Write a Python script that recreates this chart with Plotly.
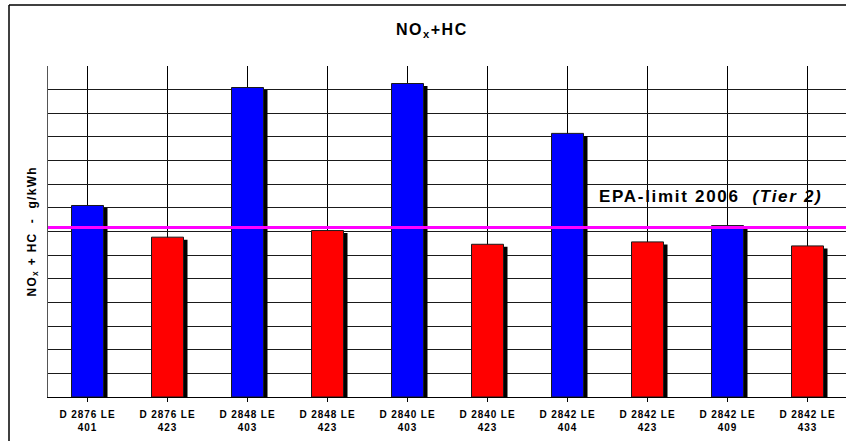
import plotly.graph_objects as go

# Engine variants and measured NOx+HC emissions (one gridline = one unit)
engines = ["D 2876 LE 401", "D 2876 LE 423", "D 2848 LE 403", "D 2848 LE 423",
           "D 2840 LE 403", "D 2840 LE 423", "D 2842 LE 404", "D 2842 LE 423",
           "D 2842 LE 409", "D 2842 LE 433"]
nox_hc = [8.10, 6.76, 13.09, 7.04, 13.26, 6.46, 11.15, 6.56, 7.25, 6.39]
engine_group = ["base", "new", "base", "new", "base", "new", "base", "new", "base", "new"]
epa_limit_2006 = 7.17
y_max = 14

FONT = "Liberation Sans, Arial, sans-serif"
GROUP_COLORS = {"base": "#0000FF", "new": "#FF0000"}

# plot-area geometry in pixels
W, H = 846, 441
L, T, B = 48, 66, 44
plot_w = W - L
plot_h = H - T - B
cat_px = 80.0
x_start = -0.5 + 0.5 / cat_px   # half-pixel shift keeps vertical gridlines crisp


def px_x(px):
    return (px - L) / plot_w


def px_y(py):
    return (H - B - py) / plot_h


def spaced(text, sp):
    return "<br>".join(f"<span style='letter-spacing:{sp}px'>{part}</span>"
                       for part in text.split("<br>"))


xs = list(range(len(engines)))
tick_text = [spaced(e.rsplit(" ", 1)[0] + "<br>" + e.rsplit(" ", 1)[1], 0.9) for e in engines]

fig = go.Figure()

# drop shadow behind each bar
shadow_dx = 4 / cat_px
shadow_dy = 2.5 * y_max / plot_h
fig.add_trace(go.Bar(
    x=xs, y=[v - shadow_dy for v in nox_hc],
    width=0.4, offset=-0.2 + shadow_dx,
    marker=dict(color="black", line=dict(width=0)),
    hoverinfo="skip", showlegend=False,
))

fig.add_trace(go.Bar(
    x=xs, y=nox_hc,
    width=0.4, offset=-0.2,
    marker=dict(color=[GROUP_COLORS[g] for g in engine_group],
                line=dict(color="#1a1a1a", width=1)),
    showlegend=False,
))

fig.update_layout(
    width=W, height=H,
    margin=dict(l=L, r=0, t=T, b=B, pad=0),
    paper_bgcolor="white", plot_bgcolor="white",
    barmode="overlay",
    font=dict(family=FONT, color="black"),
    xaxis=dict(
        range=[x_start, x_start + plot_w / cat_px],
        tickmode="array", tickvals=xs, ticktext=tick_text,
        tickson="boundaries", ticks="outside", ticklen=4, tickcolor="black",
        tickfont=dict(family=FONT, size=10, weight="bold", color="black"),
        tickangle=0, ticklabelstandoff=4,
        showgrid=True, gridcolor="black", gridwidth=1,
        showline=True, linecolor="black", linewidth=1,
        zeroline=False, fixedrange=True,
    ),
    yaxis=dict(
        range=[0, y_max], dtick=1, tick0=0,
        showticklabels=False, ticks="",
        showgrid=True, gridcolor="#1a1a1a", gridwidth=1,
        showline=True, linecolor="#555555", linewidth=1,
        zeroline=False, fixedrange=True,
    ),
    shapes=[
        # EPA limit line
        dict(type="line", xref="paper", yref="y", x0=0, x1=1,
             y0=epa_limit_2006, y1=epa_limit_2006,
             line=dict(color="#FF00FF", width=3), layer="above"),
        # chart frame
        dict(type="line", xref="paper", yref="paper",
             x0=px_x(9), x1=px_x(W + 5), y0=px_y(5), y1=px_y(5),
             line=dict(color="black", width=1.5)),
        dict(type="line", xref="paper", yref="paper",
             x0=px_x(9), x1=px_x(9), y0=px_y(5), y1=px_y(H + 5),
             line=dict(color="black", width=1.5)),
    ],
    annotations=[
        dict(text=spaced("NO<sub>x</sub>+HC", 1.5), xref="paper", yref="paper",
             x=px_x(432), y=px_y(30), xanchor="center", yanchor="middle",
             showarrow=False, font=dict(family=FONT, size=16, weight="bold")),
        dict(text=spaced("NO<sub>x</sub> + HC  -  g/kWh", 1.3), xref="paper", yref="paper",
             x=px_x(32), y=0.5, xanchor="center", yanchor="middle", textangle=-90,
             showarrow=False, font=dict(family=FONT, size=12, weight="bold")),
        dict(text=spaced("EPA-limit 2006  <i>(Tier 2)</i>", 1.7), xref="paper", yref="y",
             x=px_x(597), y=(H - B - 196) / plot_h * y_max, xanchor="left", yanchor="middle",
             showarrow=False, font=dict(family=FONT, size=17, weight="bold")),
    ],
)

fig.write_html("out.html")
